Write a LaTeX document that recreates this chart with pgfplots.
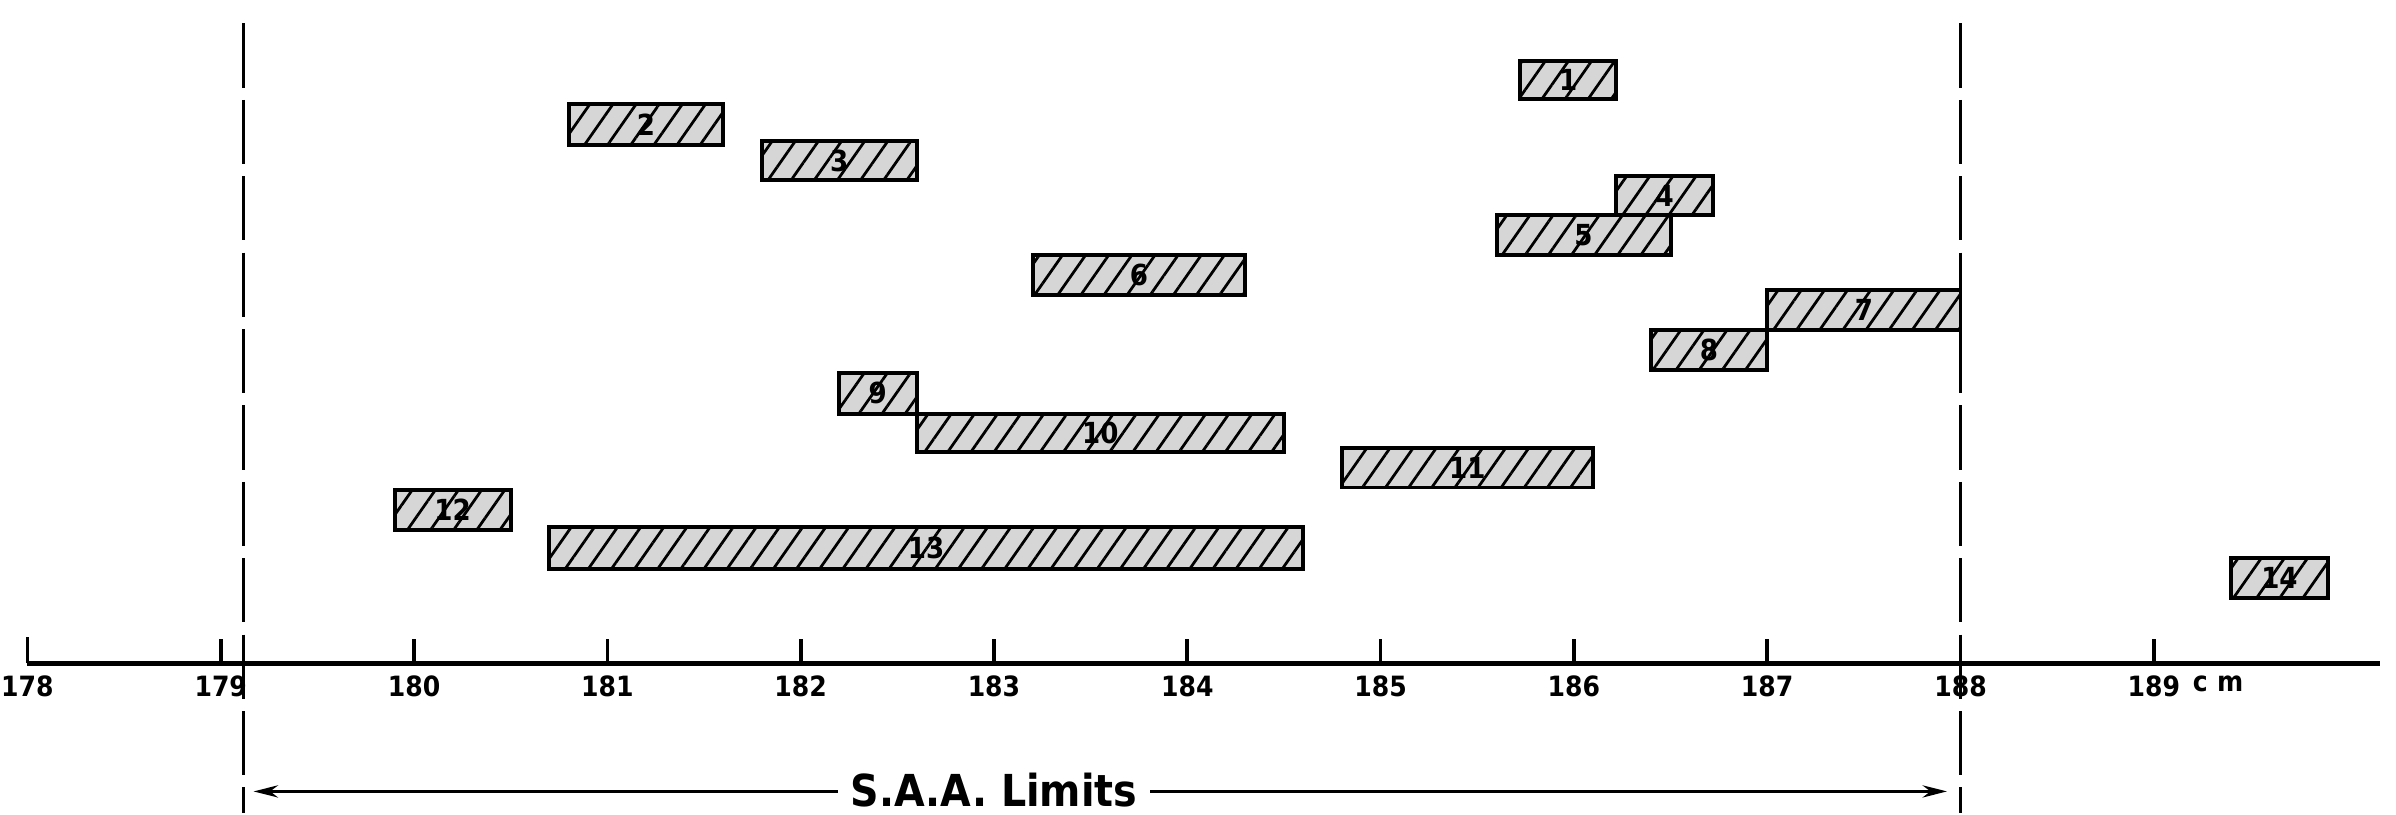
\documentclass[border=0pt]{standalone}
\usepackage{pgfplots}
\pgfplotsset{compat=1.18}
\usepackage{fontspec}
\setmainfont{DejaVu Sans Condensed}
\usetikzlibrary{patterns.meta,arrows.meta}

% one hatched interval: x1, x2, bottom, top, label
\newcommand{\interval}[5]{%
  \addplot[draw=black, line width=0.65mm, preaction={fill=black!16},
    pattern={Lines[angle=55, distance=3.1mm, line width=0.45mm]}, pattern color=black]
    coordinates {(#1,#3) (#2,#3) (#2,#4) (#1,#4)} --cycle;
  \node[font=\fontsize{13.5}{13.5}\selectfont\bfseries, inner sep=0pt] at (axis cs:{(#1+#2)/2},{(#3+#4)/2}) {#5};
}

\begin{document}
\begin{tikzpicture}
\begin{axis}[
  scale only axis,
  x=3.1625cm, y=6.5mm,
  xmin=177.858, xmax=190.253,
  ymin=-3.77, ymax=16.69,
  axis lines=none,
  clip=false,
]
\path (rel axis cs:0,0) rectangle (rel axis cs:1,1);

% number line
\addplot[black, line width=0.8mm] coordinates {(178,0) (190.17,0)};
\addplot[black, line width=0.6mm, ycomb] coordinates {
  (178,0.65) (179,0.6) (180,0.6) (181,0.6) (182,0.6) (183,0.6)
  (184,0.6) (185,0.6) (186,0.6) (187,0.6) (188,0.6) (189,0.6)};
\foreach \t in {178,...,189}{
  \edef\temp{\noexpand\node[anchor=north, font=\noexpand\fontsize{13}{13}\noexpand\selectfont\noexpand\bfseries, inner sep=0pt]
    at (axis cs:\t,-0.3) {\t};}
  \temp
}
\node[anchor=north west, font=\fontsize{13}{13}\selectfont\bfseries, inner sep=0pt] at (axis cs:189.2,-0.3) {c\,\,m};

% S.A.A. limits
\addplot[black, line width=0.5mm, dash pattern=on 10.5mm off 2mm] coordinates {(179.12,16.1) (179.12,-3.77)};
\addplot[black, line width=0.5mm, dash pattern=on 10.5mm off 2mm] coordinates {(188.0,16.1) (188.0,-3.77)};
\draw[line width=0.45mm, {Stealth[length=4mm,width=2mm]}-{Stealth[length=4mm,width=2mm]}]
  (axis cs:179.17,-3.23) -- (axis cs:187.93,-3.23);
\node[fill=white, inner xsep=2mm, font=\fontsize{20.5}{20.5}\selectfont\bfseries] at (axis cs:183.0,-3.2) {S.A.A. Limits};

% intervals
\interval{185.72}{186.22}{14.19}{15.15}{1}
\interval{180.80}{181.60}{13.04}{14.08}{2}
\interval{181.80}{182.60}{12.15}{13.15}{3}
\interval{186.22}{186.72}{11.27}{12.27}{4}
\interval{185.60}{186.50}{10.27}{11.27}{5}
\interval{183.20}{184.30}{9.27}{10.27}{6}
\interval{187.00}{188.00}{8.38}{9.38}{7}
\interval{186.40}{187.00}{7.38}{8.38}{8}
\interval{182.20}{182.60}{6.27}{7.31}{9}
\interval{182.60}{184.50}{5.31}{6.27}{10}
\interval{184.80}{186.10}{4.42}{5.42}{11}
\interval{179.90}{180.50}{3.35}{4.35}{12}
\interval{180.70}{184.60}{2.38}{3.42}{13}
\interval{189.40}{189.90}{1.65}{2.65}{14}
\end{axis}
\end{tikzpicture}
\end{document}
